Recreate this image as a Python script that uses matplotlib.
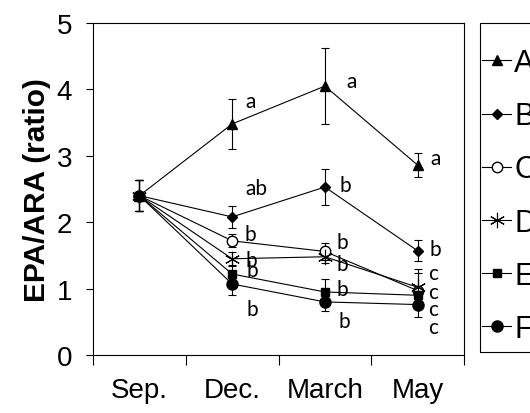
import numpy as np
import matplotlib.pyplot as plt
from matplotlib.ticker import FixedLocator
from matplotlib.lines import Line2D
from matplotlib.patches import Rectangle

# months (categories)
months = ["Sep.", "Dec.", "March", "May"]

# EPA/ARA means per group
A = [2.40, 3.48, 4.05, 2.86]
B = [2.40, 2.08, 2.53, 1.57]
C = [2.40, 1.72, 1.56, 0.97]
D = [2.40, 1.45, 1.48, 1.02]
E = [2.40, 1.22, 0.95, 0.90]
F = [2.40, 1.07, 0.80, 0.76]

# standard errors
A_err = [0.23, 0.37, 0.57, 0.18]
B_err = [0.23, 0.17, 0.27, 0.16]
C_err = [0.23, 0.10, 0.13, 0.26]
D_err = [0.23, 0.10, 0.10, 0.28]
E_err = [0.23, 0.12, 0.20, 0.10]
F_err = [0.23, 0.17, 0.14, 0.19]

# significance letters (month index, letter, y of the letter)
sig_month = [1, 1, 1, 1, 1, 1, 2, 2, 2, 2, 2, 2, 3, 3, 3, 3, 3, 3]
sig_text = ["a", "ab", "b", "b", "b", "b",
            "a", "b", "b", "b", "b", "b",
            "a", "b", "c", "c", "c", "c"]
sig_y = [3.83, 2.52, 1.82, 1.43, 1.28, 0.69,
         4.13, 2.56, 1.70, 1.37, 0.99, 0.51,
         2.97, 1.60, 1.23, 0.95, 0.69, 0.42]
sig_dx = [0.20, 0.26, 0.20, 0.21, 0.22, 0.22,
          0.29, 0.22, 0.19, 0.19, 0.19, 0.21,
          0.19, 0.19, 0.17, 0.17, 0.17, 0.17]

plt.rcParams['font.family'] = ['Liberation Sans', 'DejaVu Sans']

fig = plt.figure(figsize=(5.3, 4.14), dpi=100)
ax = fig.add_axes([0.1755, 0.140, 0.700, 0.802])

x = np.arange(len(months))
series = [("A", A, A_err, dict(marker='^', ms=7.5, mfc='black')),
          ("B", B, B_err, dict(marker='D', ms=5.5, mfc='black')),
          ("C", C, C_err, dict(marker='o', ms=7.5, mfc='white')),
          ("D", D, D_err, dict(marker=(6, 2, 0), ms=11, mew=0.8)),
          ("E", E, E_err, dict(marker='s', ms=6, mfc='black')),
          ("F", F, F_err, dict(marker='o', ms=8, mfc='black'))]

handles = []
for name, vals, err, st in series:
    ax.errorbar(x, vals, yerr=err, color='black', lw=0.8, elinewidth=0.8,
                capsize=3, capthick=0.8, mec='black', **st)
    handles.append(Line2D([], [], color='black', lw=0.8, mec='black', label=name, **st))

for m, t, yy, dx in zip(sig_month, sig_text, sig_y, sig_dx):
    ax.text(m + dx, yy, t, ha='center', va='center', fontsize=15,
            family=['Lato', 'DejaVu Sans'])

ax.set_xlim(-0.5, 3.5)
ax.set_ylim(0, 5)
ax.set_yticks([0, 1, 2, 3, 4, 5])
ax.xaxis.set_major_locator(FixedLocator([-0.5, 0.5, 1.5, 2.5, 3.5]))
ax.xaxis.set_major_formatter(plt.NullFormatter())
ax.xaxis.set_minor_locator(FixedLocator(x))
ax.set_xticklabels(months, minor=True)
ax.tick_params(axis='x', which='major', direction='out', length=7, width=0.8)
ax.tick_params(axis='x', which='minor', length=0, pad=16, labelsize=20)
ax.tick_params(axis='y', direction='out', length=5, width=0.8, pad=10, labelsize=20)
for s in ax.spines.values():
    s.set_linewidth(0.8)

ax.set_ylabel("EPA/ARA (ratio)", fontsize=21.5, fontweight='bold', labelpad=4)

# legend box (right side is cut by the figure edge)
fig.patches.append(Rectangle((480 / 530, 1 - 353 / 414), 0.2, 329 / 414,
                             transform=fig.transFigure, fill=False,
                             edgecolor='black', lw=0.8))
leg = fig.legend(handles=handles, loc='upper left',
                 bbox_to_anchor=(482 / 530, 1 - 49 / 414),
                 borderaxespad=0, borderpad=0, fontsize=22, frameon=False,
                 handlelength=0.95, handletextpad=0.1, labelspacing=0.76)

fig.savefig("out.png", dpi=100)
